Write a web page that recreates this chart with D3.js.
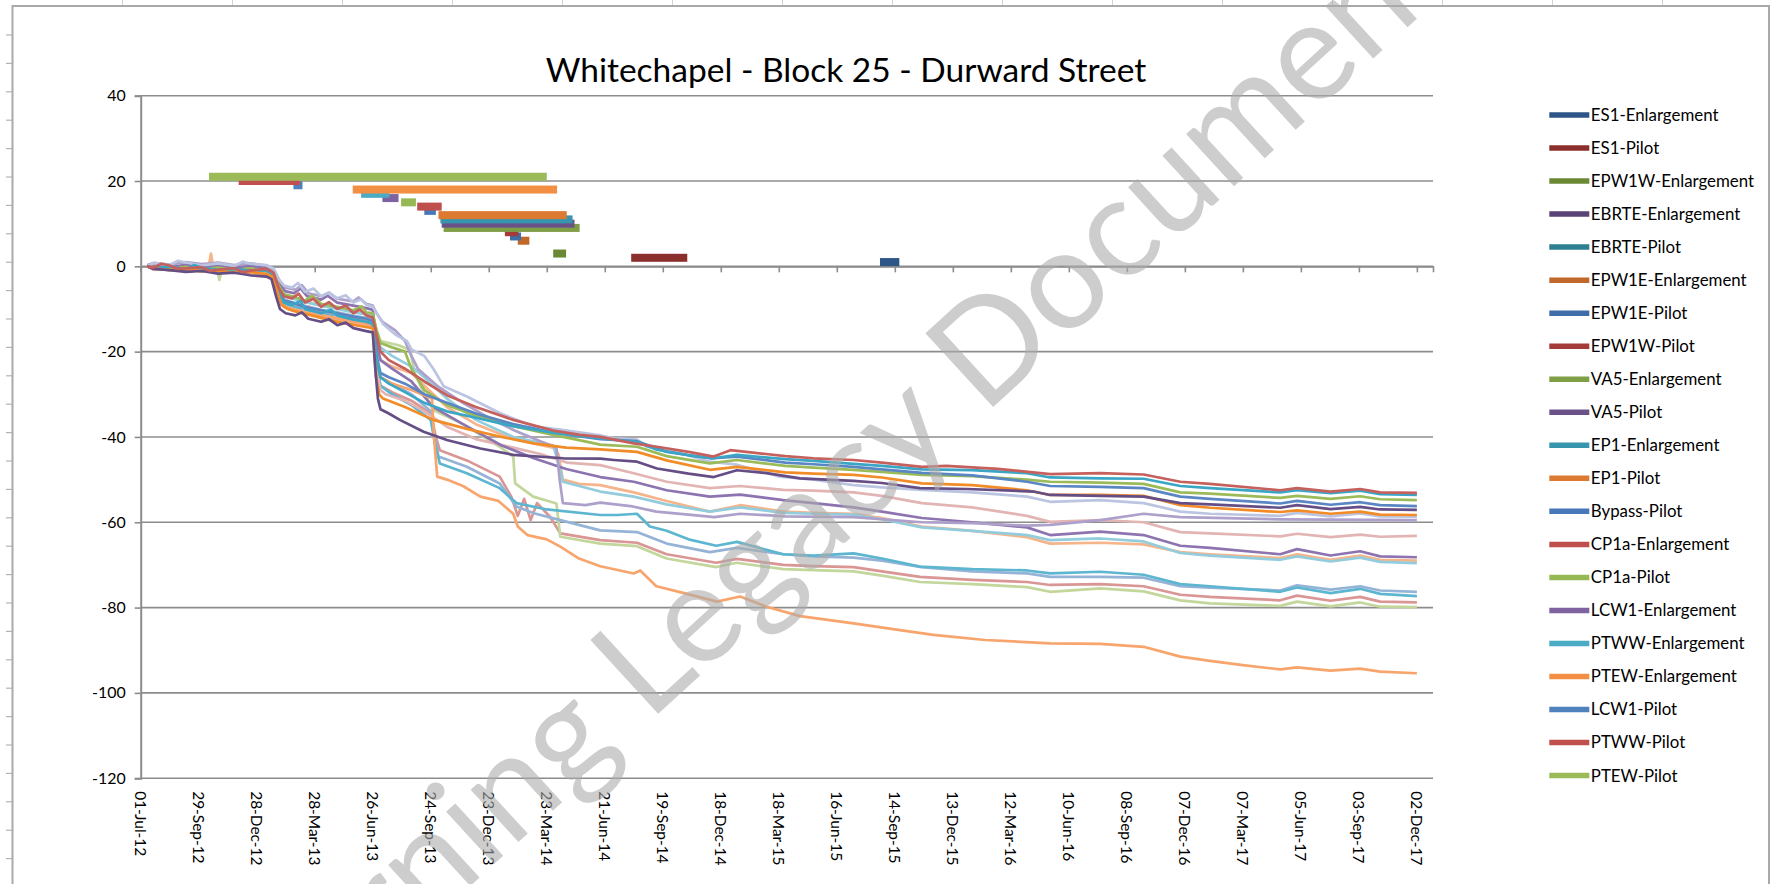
<!DOCTYPE html>
<html>
<head>
<meta charset="utf-8">
<script src="https://cdn.jsdelivr.net/npm/d3@7"></script>
<style>
  html, body { margin: 0; padding: 0; background: #fff; }
  svg { display: block; }
</style>
</head>
<body>
<svg id="chart" width="1771" height="884"></svg>
<script>
// ---------------------------------------------------------------
// Whitechapel - Block 25 - Durward Street: settlement (mm) against
// date, with the works periods plotted as floating bars above zero.
// ---------------------------------------------------------------

const chartTitle = "Whitechapel - Block 25 - Durward Street";
const watermarkText = "Crossrail Learning Legacy Document";

// Category-axis labels (one every 90 days from the baseline reading)
const xTickLabels = [
  "01-Jul-12", "29-Sep-12", "28-Dec-12", "28-Mar-13", "26-Jun-13", "24-Sep-13",
  "23-Dec-13", "23-Mar-14", "21-Jun-14", "19-Sep-14", "18-Dec-14", "18-Mar-15",
  "16-Jun-15", "14-Sep-15", "13-Dec-15", "12-Mar-16", "10-Jun-16", "08-Sep-16",
  "07-Dec-16", "07-Mar-17", "05-Jun-17", "03-Sep-17", "02-Dec-17"
];
const axisEndLabel = "27-Dec-17";
const yTicks = [-120, -100, -80, -60, -40, -20, 0, 20, 40];

// Works periods: name, plotted level, start and finish
const workNames = [
  "ES1-Enlargement", "ES1-Pilot", "EPW1W-Enlargement", "EBRTE-Enlargement",
  "EBRTE-Pilot", "EPW1E-Enlargement", "EPW1E-Pilot", "EPW1W-Pilot",
  "VA5-Enlargement", "VA5-Pilot", "EP1-Enlargement", "EP1-Pilot",
  "Bypass-Pilot", "CP1a-Enlargement", "CP1a-Pilot", "LCW1-Enlargement",
  "PTWW-Enlargement", "PTEW-Enlargement", "LCW1-Pilot", "PTWW-Pilot", "PTEW-Pilot"
];
const workLevels = [1, 2, 3, 4, 5, 6, 7, 8, 9, 10, 11, 12, 13, 14, 15, 16, 17, 18, 19, 20, 21];
const workStarts = [
  "2015-08-22", "2014-08-01", "2014-04-02", null, null, "2014-02-06", "2014-01-25",
  "2014-01-17", "2013-10-14", "2013-10-11", "2013-10-09", "2013-10-06", "2013-09-14",
  "2013-09-03", "2013-08-09", "2013-07-11", "2013-06-08", "2013-05-26", "2013-02-23",
  "2012-11-30", "2012-10-15"
];
const workEnds = [
  "2015-09-21", "2014-10-27", "2014-04-22", null, null, "2014-02-24", "2014-02-11",
  "2014-02-07", "2014-05-13", "2014-05-05", "2014-05-02", "2014-04-23", "2013-10-02",
  "2013-10-11", "2013-09-01", "2013-08-05", "2013-07-22", "2014-04-08", "2013-03-09",
  "2013-03-05", "2014-03-23"
];
const workColors = [
  "#2D5587", "#8B2F2D", "#6B8834", "#5A4375", "#2E7F92", "#C0692A", "#3E6DAA",
  "#A43B39", "#7F9E45", "#6A5289", "#3795AD", "#DC7A31", "#4678BB", "#BF4F4C",
  "#97B954", "#7F63A1", "#4AABC5", "#F28F43", "#4F81BD", "#C0504D", "#9BBB59"
];

// Settlement traces: [days after 01-Jul-12, settlement mm]
const trace01 = [[10,0],[20,-0.3],[32,0.6],[45,0.2],[58,-0.6],[70,-0.5],[95,-0.2],[108,-1.1],[120,-0.8],[145,-0.4],[158,-1.4],[170,-1],[195,-0.6],[206,-1.5],[214,-5],[222,-7],[235,-7.5],[245,-6.4],[255,-8.5],[268,-7.6],[280,-9.5],[292,-8.4],[305,-10],[318,-9.2],[330,-11],[340,-10.1],[350,-11.5],[360,-12],[366,-16],[372,-20],[385,-22],[410,-24],[440,-27],[475,-30.2],[520,-33],[578,-36],[640,-38.5],[682,-39.5],[713,-40],[765,-41.5],[801,-42.3],[850,-43.5],[889,-44.6],[915,-43.1],[970,-44],[1000,-44.5],[1044,-45],[1106,-45.4],[1150,-46],[1212,-47],[1250,-46.8],[1330,-47.5],[1411,-48.7],[1489,-48.5],[1556,-48.8],[1613,-50.5],[1659,-51],[1768,-52.5],[1794,-52],[1846,-52.8],[1892,-52.2],[1923,-53],[1980,-53.1]];
const trace02 = [[10,0],[20,-0.5],[45,-0.1],[70,-0.8],[83,0.3],[95,-0.4],[120,-1],[145,-0.6],[170,-1.2],[195,-0.9],[206,-2],[214,-6],[222,-8.5],[235,-9],[248,-8.1],[255,-10],[280,-11],[295,-10.2],[305,-11.5],[330,-12.5],[350,-13],[360,-13.5],[366,-22],[372,-26],[385,-27.5],[410,-29.5],[440,-32],[475,-34],[520,-35.5],[578,-37.5],[640,-39],[713,-40.3],[770,-41.2],[801,-43],[850,-44.3],[889,-45],[925,-44.2],[1000,-45.2],[1044,-45.6],[1106,-46.3],[1150,-46.8],[1212,-47.6],[1290,-47.8],[1375,-48.5],[1411,-49.5],[1489,-49.7],[1556,-49.8],[1613,-51.5],[1659,-52],[1768,-53],[1794,-52.5],[1846,-53.2],[1892,-52.6],[1923,-53.4],[1980,-53.6]];
const trace03 = [[10,0],[20,-0.2],[45,-0.6],[70,-0.1],[95,-0.7],[120,-0.3],[145,-0.9],[170,-0.5],[195,-1.1],[206,-1.5],[214,-4.5],[222,-6.5],[235,-7],[255,-8],[266,-6.9],[280,-8.8],[305,-9.5],[330,-10.3],[343,-9.4],[350,-10.8],[360,-11],[366,-15],[372,-18],[390,-19],[410,-20],[420,-24],[440,-29],[475,-32.5],[520,-35],[578,-37.5],[640,-39.5],[682,-40.8],[713,-41.8],[770,-42.3],[816,-44.5],[883,-46.2],[925,-45.4],[1000,-46.8],[1044,-47.2],[1106,-47.7],[1150,-48.2],[1212,-48.9],[1290,-49.2],[1375,-50],[1411,-50.5],[1489,-50.7],[1556,-51],[1613,-53],[1659,-53.3],[1768,-54.3],[1794,-53.8],[1846,-54.5],[1892,-53.9],[1923,-54.6],[1980,-54.8]];
const trace04 = [[10,0],[20,-0.4],[45,0],[70,-0.7],[95,-0.3],[120,-0.9],[145,-0.5],[170,-1.1],[195,-0.8],[206,-1.8],[214,-5.5],[222,-8],[235,-8.5],[255,-9.5],[280,-10.3],[305,-11],[330,-11.8],[350,-12.3],[360,-12.8],[366,-21],[372,-25],[385,-26],[410,-27.5],[440,-30],[475,-32],[520,-34.5],[578,-37],[640,-39],[713,-40.5],[770,-41],[816,-43.5],[883,-45],[925,-44.6],[1000,-46],[1044,-46.4],[1106,-47],[1150,-47.6],[1212,-48.4],[1290,-49],[1375,-50.5],[1411,-51.5],[1489,-51.7],[1556,-52],[1613,-54],[1659,-54.5],[1768,-55.6],[1794,-55],[1846,-55.9],[1892,-55.3],[1923,-56],[1980,-56.2]];
const trace05 = [[10,0],[20,-0.6],[45,-0.9],[70,-1.3],[95,-1.1],[120,-1.7],[145,-1.5],[170,-2.1],[195,-2.4],[203,-3],[210,-7],[216,-10],[225,-11],[240,-11.5],[250,-10.8],[260,-12.3],[280,-13],[292,-12.4],[305,-13.8],[318,-13.2],[330,-14.5],[350,-15.2],[360,-15.5],[364,-24],[368,-31],[372,-33.5],[385,-34.5],[402,-36],[439,-38.8],[475,-40.7],[527,-42.7],[578,-44.2],[656,-45],[713,-45.1],[734,-45.4],[770,-45.8],[801,-47.4],[850,-48.6],[889,-49.4],[925,-47.8],[971,-48.5],[1023,-49.7],[1106,-50.3],[1150,-50.8],[1209,-52],[1282,-52.2],[1385,-52.8],[1411,-53.6],[1489,-53.8],[1556,-54],[1613,-55.5],[1659,-55.8],[1768,-56.6],[1794,-56],[1846,-56.9],[1892,-56.4],[1923,-57],[1980,-57.1]];
const trace06 = [[10,0],[20,-0.5],[45,-0.9],[70,-0.6],[95,-1.2],[120,-1],[145,-1.5],[170,-1.3],[195,-1.8],[205,-2.5],[212,-6],[218,-9],[228,-10],[245,-10.8],[265,-11.5],[290,-12.5],[315,-13.3],[340,-14],[360,-14.5],[365,-26],[370,-30],[376,-31],[410,-33],[454,-36],[506,-38.1],[560,-40],[610,-41.5],[660,-42.5],[713,-42.9],[770,-43.5],[816,-45.5],[883,-47.7],[925,-47],[1000,-48.3],[1044,-48.6],[1106,-48.9],[1150,-49.5],[1212,-50.9],[1290,-51.3],[1375,-52.5],[1411,-53.6],[1489,-53.6],[1556,-53.8],[1613,-56],[1659,-56.6],[1768,-57.6],[1794,-57.2],[1846,-58],[1892,-57.5],[1923,-58.2],[1980,-58.3]];
const trace07 = [[10,0],[20,0.8],[45,0.3],[58,1.3],[70,0.9],[95,0.2],[120,0.7],[145,0.1],[158,1.1],[170,0.6],[195,0.3],[206,-0.5],[214,-3],[222,-4.5],[235,-5],[244,-3.9],[255,-6],[268,-5.2],[280,-7],[292,-6.1],[305,-7.5],[318,-6.8],[330,-8.5],[342,-7.7],[350,-9],[360,-9.5],[368,-11.5],[376,-13.5],[395,-16],[413,-17.5],[420,-19.5],[440,-21],[454,-24],[470,-28.1],[506,-30.5],[557,-34.4],[609,-37.5],[651,-38.3],[713,-39.6],[734,-40.3],[770,-40.6],[785,-42.3],[816,-43],[837,-43.8],[883,-45.8],[925,-46.5],[992,-49.3],[1044,-50],[1106,-51.3],[1150,-51.8],[1212,-52.4],[1290,-53],[1375,-54],[1411,-55.2],[1489,-54.8],[1556,-55.5],[1613,-57.5],[1659,-58],[1768,-58.5],[1794,-57.8],[1846,-58.6],[1892,-57.9],[1923,-58.6],[1980,-58.7]];
const trace08 = [[10,0.3],[20,0.8],[45,0.4],[70,1],[95,0.5],[120,0.9],[145,0.3],[170,0.7],[195,0.2],[207,-0.8],[216,-3.5],[225,-5],[240,-5.5],[250,-4.4],[260,-6.3],[280,-7],[292,-6.2],[305,-7.6],[330,-8.2],[338,-7.3],[350,-8.8],[360,-9.2],[366,-11],[375,-13],[395,-15],[410,-17.5],[420,-21],[430,-24],[460,-28],[500,-32],[540,-35.5],[580,-38.5],[620,-41],[645,-42.5],[650,-50],[655,-55.5],[690,-56],[713,-55.4],[760,-56.2],[800,-57.5],[850,-58.2],[890,-58.8],[930,-58],[1000,-58.6],[1106,-58.8],[1212,-60],[1290,-60.2],[1375,-60.8],[1411,-60.6],[1489,-59.5],[1556,-58],[1613,-58.8],[1768,-59.3],[1846,-59.4],[1980,-59.5]];
const trace09 = [[10,0],[20,-0.7],[45,-0.4],[70,-1],[90,-0.8],[115,-0.5],[140,-1.2],[165,-1],[190,-1.6],[205,-2.2],[213,-6],[220,-9],[232,-10],[250,-10.5],[262,-9.4],[275,-11.3],[300,-12],[312,-11.1],[325,-12.8],[345,-13.3],[360,-13.6],[366,-24],[372,-29],[380,-30],[410,-31.5],[440,-34],[475,-37.6],[520,-40.5],[578,-42.5],[620,-44],[661,-46],[713,-46.6],[765,-48.5],[816,-50.5],[883,-52],[930,-51.5],[997,-52.4],[1044,-52.6],[1106,-53],[1150,-53.8],[1212,-55.5],[1290,-56.5],[1375,-58.5],[1411,-59.9],[1489,-59.5],[1556,-60],[1613,-62.3],[1659,-62.6],[1768,-63.3],[1794,-62.7],[1846,-63.5],[1892,-62.9],[1923,-63.4],[1980,-63.2]];
const trace10 = [[10,0],[20,0.2],[45,-0.3],[70,0.4],[95,-0.2],[120,0.3],[145,-0.4],[170,0.2],[195,-0.5],[207,-1.5],[215,-4],[224,-5.8],[238,-6.3],[248,-5.2],[258,-7],[280,-7.8],[290,-6.9],[305,-8.5],[330,-9.2],[350,-9.8],[360,-10.2],[366,-18],[372,-22],[390,-24],[420,-27],[454,-33],[500,-37],[560,-42],[610,-45],[660,-47.5],[713,-49.4],[765,-50.5],[816,-52.5],[883,-54],[930,-53.5],[997,-54.8],[1044,-55.5],[1106,-56.5],[1150,-57.5],[1212,-59],[1290,-60],[1375,-61.2],[1411,-63],[1489,-62.2],[1556,-63],[1613,-65.5],[1659,-66],[1768,-67.5],[1794,-66.3],[1846,-67.8],[1892,-66.8],[1923,-68],[1980,-68.2]];
const trace11 = [[10,0],[20,-0.8],[45,-0.5],[70,-1.2],[95,-0.9],[105,-0.5],[109,3],[113,-0.8],[140,-1.5],[165,-1.3],[190,-2],[205,-2.6],[213,-6.5],[222,-9.5],[235,-10.3],[255,-11],[280,-11.8],[305,-12.4],[330,-13.2],[350,-13.7],[360,-14],[366,-19],[372,-22],[390,-23.5],[420,-25],[440,-28],[475,-33],[520,-37],[578,-40.5],[640,-42.5],[648,-44],[655,-50],[680,-51],[713,-51.3],[765,-53],[816,-55],[883,-57.5],[930,-56],[997,-57.5],[1044,-57.8],[1106,-58],[1150,-59],[1212,-61],[1290,-62],[1375,-63.5],[1411,-65],[1489,-64.8],[1556,-65.2],[1613,-67],[1659,-67.5],[1768,-68.4],[1794,-67.5],[1846,-68.8],[1892,-67.8],[1923,-68.8],[1980,-69]];
const trace12 = [[10,0],[20,-0.3],[45,0.2],[70,-0.5],[95,0],[120,-0.6],[145,-0.2],[170,-0.9],[195,-0.5],[206,-1.2],[214,-4.8],[223,-7],[236,-7.6],[256,-8.4],[280,-9.3],[305,-10],[330,-10.8],[350,-11.3],[360,-11.6],[366,-16],[372,-19],[390,-21],[420,-23.5],[440,-26],[475,-31],[520,-36],[578,-40],[640,-42],[650,-47],[655,-50.5],[713,-52.8],[765,-54],[816,-55.8],[883,-57.5],[930,-56.5],[997,-57.8],[1044,-58],[1106,-58.2],[1150,-59.3],[1212,-61.2],[1290,-62],[1375,-63],[1411,-64.2],[1489,-63.8],[1556,-64.5],[1613,-67.2],[1659,-67.8],[1768,-68.8],[1794,-68],[1846,-69.2],[1892,-68.3],[1923,-69.3],[1980,-69.6]];
const trace13 = [[10,0],[20,-0.6],[45,-0.2],[70,-0.9],[95,-0.5],[120,-1.1],[145,-0.7],[170,-1.4],[195,-1],[206,-1.8],[214,-5],[223,-7.8],[236,-8.5],[256,-9.3],[280,-10.2],[305,-10.8],[330,-11.6],[350,-12.1],[360,-12.5],[366,-22],[372,-26],[390,-27.5],[420,-30],[450,-34],[456,-40],[462,-44.6],[506,-47],[557,-50.9],[583,-56.3],[610,-57.9],[651,-59.5],[713,-61.9],[770,-62.3],[816,-65],[883,-67],[925,-66],[997,-67.5],[1044,-68],[1106,-68.3],[1150,-69],[1212,-70.5],[1290,-71.5],[1375,-72],[1411,-72.8],[1489,-72.8],[1556,-73],[1613,-75],[1659,-75.3],[1768,-76],[1794,-74.8],[1846,-75.8],[1892,-75],[1923,-76],[1980,-76.3]];
const trace14 = [[10,0],[20,-0.4],[45,-0.9],[70,-0.5],[95,-1],[120,-0.8],[145,-1.3],[170,-1],[195,-1.5],[206,-2.2],[214,-6],[223,-8.8],[236,-9.4],[256,-10.2],[280,-11],[305,-11.7],[330,-12.5],[350,-13],[360,-13.4],[366,-23],[372,-28],[390,-30],[420,-32.5],[450,-36],[456,-41],[464,-46.2],[506,-48.5],[557,-52],[583,-55.5],[630,-57],[713,-58.3],[740,-58.3],[770,-58],[790,-61],[816,-62],[850,-64],[893,-65.5],[925,-64.6],[997,-67.5],[1044,-67.8],[1106,-67.3],[1150,-68.5],[1209,-70.4],[1290,-71],[1375,-71.3],[1411,-72],[1489,-71.6],[1556,-72.3],[1613,-74.5],[1659,-75],[1768,-76.3],[1794,-75.3],[1846,-76.6],[1892,-75.6],[1923,-76.8],[1980,-77.3]];
const trace15 = [[10,0],[20,-0.7],[45,-0.3],[70,-1],[95,-0.6],[120,-1.2],[145,-0.8],[170,-1.5],[195,-1.2],[206,-2],[214,-5.5],[223,-8.3],[236,-9],[256,-9.8],[280,-10.6],[305,-11.3],[330,-12],[350,-12.6],[360,-13],[366,-24],[372,-28],[390,-29.5],[420,-31.5],[450,-34.5],[458,-40],[464,-43.1],[506,-45.5],[557,-49.3],[575,-54],[585,-58.5],[595,-54.5],[605,-59.5],[615,-55.5],[635,-58.7],[651,-62.6],[713,-64.2],[770,-64.8],[816,-67.5],[893,-69.5],[925,-68.6],[997,-70],[1044,-70.3],[1106,-70.5],[1150,-71.5],[1209,-72.8],[1290,-73.5],[1375,-74],[1411,-74.7],[1489,-74.5],[1556,-75],[1613,-77],[1659,-77.5],[1768,-78.3],[1794,-77.2],[1846,-78.4],[1892,-77.5],[1923,-78.6],[1980,-78.8]];
const trace16 = [[10,0],[20,-0.3],[45,-0.7],[70,-0.2],[95,-0.8],[118,-0.5],[122,-3.2],[126,-0.6],[145,-1],[170,-0.8],[195,-1.3],[206,-1.8],[214,-4.5],[222,-6.8],[235,-7.3],[255,-8.2],[280,-9],[305,-9.8],[330,-10.6],[350,-11.1],[360,-11.5],[366,-15],[372,-17.5],[400,-18.5],[418,-19.6],[425,-25],[440,-30],[454,-33.7],[500,-37],[557,-42.3],[578,-44.6],[581,-50.9],[609,-54],[645,-55.6],[651,-63.4],[713,-65],[770,-65.6],[816,-68.5],[893,-70.5],[925,-69.5],[997,-71],[1044,-71.2],[1106,-71.5],[1150,-72.5],[1209,-74],[1290,-74.5],[1375,-75.2],[1411,-76.3],[1489,-75.5],[1556,-76.2],[1613,-78.3],[1659,-79],[1768,-79.6],[1794,-78.6],[1846,-79.7],[1892,-78.8],[1923,-79.8],[1980,-79.9]];
const trace17 = [[10,0],[20,-0.4],[45,-0.8],[70,-0.5],[95,-1.1],[120,-0.9],[145,-1.4],[170,-1.2],[195,-1.8],[206,-2.5],[214,-6.5],[223,-9.5],[236,-10],[256,-10.8],[280,-11.5],[305,-12.2],[330,-13],[350,-13.5],[360,-13.8],[366,-22],[372,-26],[390,-27.5],[420,-29],[452,-31],[455,-40],[460,-49.3],[475,-50],[500,-51.5],[527,-54],[555,-55],[578,-58],[585,-61],[600,-63],[630,-64],[651,-65.7],[680,-68.5],[713,-70.3],[765,-72],[775,-71.3],[800,-75],[840,-76.5],[894,-78.6],[930,-77.4],[971,-79.8],[1023,-82],[1106,-83.7],[1178,-85.3],[1230,-86.4],[1310,-87.6],[1411,-88.4],[1489,-88.5],[1556,-89.2],[1613,-91.5],[1659,-92.5],[1710,-93.5],[1768,-94.5],[1794,-94],[1846,-94.8],[1892,-94.3],[1923,-95],[1980,-95.4]];

const traces = [trace15, trace16, trace13, trace14, trace11, trace12, trace09, trace10,
                trace08, trace07, trace17, trace03, trace04, trace02, trace06, trace05, trace01];
const traceColors = ["#D99694", "#C3D69B", "#95B3D7", "#5DB6D0", "#F6B48A", "#93CDDD", "#E2B4B3", "#8D74B0",
                     "#ADA0CB", "#BBC5E2", "#F7A56D", "#9BBB59", "#5B86C4", "#3AA6C6", "#F28C28", "#654E86", "#C6605D"];

// ---------------------------------------------------------------
const FONT = "Lato, 'Open Sans', sans-serif";
const svg = d3.select("#chart");
const W = 1771, H = 884;
const plot = { left: 140.7, right: 1433, top: 95.7, bottom: 778.2 };
const gridColor = "#8C8C8C";
const inkColor = "#000";

const parseLabel = d3.utcParse("%d-%b-%y");
const parseISO = d3.utcParse("%Y-%m-%d");
const baseDate = parseLabel(xTickLabels[0]);
const dayDate = d => d3.utcDay.offset(baseDate, d);

const x = d3.scaleUtc()
  .domain([baseDate, parseLabel(axisEndLabel)])
  .range([plot.left, plot.right]);
const y = d3.scaleLinear().domain([-120, 40]).range([plot.bottom, plot.top]);

// font sizing helper: size that makes a sample string a given width
function sizeFor(text, width, weight) {
  const t = svg.append("text").attr("font-family", FONT).attr("font-size", 100)
    .attr("font-weight", weight || 400).text(text);
  const w = t.node().getComputedTextLength();
  t.remove();
  return 100 * width / w;
}

svg.append("rect").attr("width", W).attr("height", H).attr("fill", "#fff");

// outer frame with its ruler marks
const frame = svg.append("g").attr("fill", "none");
frame.append("path").attr("d", `M12.5,${H + 2} V6 H1769 V${H + 2}`)
  .attr("stroke", "#A9A9A9").attr("stroke-width", 2);
frame.selectAll("line.rl").data(d3.range(35, H, 28.4)).join("line")
  .attr("x1", 6).attr("x2", 12).attr("y1", d => d).attr("y2", d => d)
  .attr("stroke", "#B4B4B4").attr("stroke-width", 1.2);
frame.selectAll("line.rt").data(d3.range(122.5, W, 110)).join("line")
  .attr("y1", 0).attr("y2", 5).attr("x1", d => d).attr("x2", d => d)
  .attr("stroke", "#D2D2D2").attr("stroke-width", 1);

// title
const titleSize = sizeFor(chartTitle, 601);
svg.append("text").attr("x", 846).attr("y", 82).attr("text-anchor", "middle")
  .attr("font-family", FONT).attr("font-size", titleSize).attr("fill", inkColor)
  .text(chartTitle);

// horizontal gridlines
svg.append("g").selectAll("line").data(yTicks).join("line")
  .attr("x1", plot.left).attr("x2", plot.right)
  .attr("y1", d => y(d)).attr("y2", d => y(d))
  .attr("stroke", gridColor).attr("stroke-width", 1.6);

// value axis
const labelSize = sizeFor("-100", 33.7);
const yAxis = svg.append("g").attr("transform", `translate(${plot.left},0)`)
  .call(d3.axisLeft(y).tickValues(yTicks).tickSize(6).tickPadding(9).tickFormat(d => String(d)));
yAxis.select(".domain").attr("stroke", gridColor).attr("stroke-width", 2);
yAxis.selectAll(".tick line").attr("stroke", gridColor).attr("stroke-width", 1.6);
yAxis.selectAll(".tick text").attr("font-family", FONT).attr("font-size", labelSize).attr("fill", inkColor);

// category axis crossing at zero, labels at the bottom
const tickDates = xTickLabels.map(parseLabel);
const xAxis = svg.append("g").attr("transform", `translate(0,${y(0)})`)
  .call(d3.axisBottom(x).tickValues(tickDates).tickSize(6).tickFormat(""));
xAxis.select(".domain").attr("stroke", gridColor).attr("stroke-width", 1.6);
xAxis.selectAll(".tick line").attr("stroke", gridColor).attr("stroke-width", 1.6);

const xLabelSize = sizeFor(xTickLabels[0], 65);
svg.append("g").selectAll("text").data(xTickLabels).join("text")
  .attr("transform", d => `translate(${x(parseLabel(d))},${plot.bottom + 13}) rotate(90)`)
  .attr("dy", "0.35em").attr("font-family", FONT).attr("font-size", xLabelSize)
  .attr("fill", inkColor).text(d => d);

// settlement traces
const line = d3.line().x(d => x(dayDate(d[0]))).y(d => y(d[1]));
svg.append("g").attr("fill", "none").attr("stroke-linejoin", "round")
  .selectAll("path").data(traces).join("path")
  .attr("d", line).attr("stroke", (d, i) => traceColors[i]).attr("stroke-width", 2.7);

// works bars
const barH = 8;
const works = workNames.map((n, i) => ({ name: n, level: workLevels[i], start: workStarts[i], end: workEnds[i], color: workColors[i] }));
svg.append("g").selectAll("rect").data(works.filter(d => d.start)).join("rect")
  .attr("x", d => x(parseISO(d.start)))
  .attr("width", d => x(parseISO(d.end)) - x(parseISO(d.start)))
  .attr("y", d => y(d.level) - barH / 2).attr("height", barH)
  .attr("fill", d => d.color);

// legend
const legendSize = sizeFor("ES1-Enlargement", 127.7);
const lg = svg.append("g").selectAll("g").data(works).join("g")
  .attr("transform", (d, i) => `translate(1549.3,${115 + i * 33.03})`);
lg.append("line").attr("x1", 0).attr("x2", 40).attr("stroke", d => d.color).attr("stroke-width", 5.5);
lg.append("text").attr("x", 41.5).attr("dy", "0.35em").attr("font-family", FONT)
  .attr("font-size", legendSize).attr("fill", inkColor).text(d => d.name);

// watermark
const wm = svg.append("text").attr("font-family", FONT).attr("font-size", 100)
  .attr("fill", "#ABABAB").attr("fill-opacity", 0.6).attr("dy", "0.35em").text(watermarkText);
const node = wm.node();
const iLeg = watermarkText.indexOf("Legacy"), iDoc = watermarkText.indexOf("Document");
const legMid = node.getSubStringLength(0, iLeg) + node.getSubStringLength(iLeg, 6) / 2;
const docMid = node.getSubStringLength(0, iDoc) + node.getSubStringLength(iDoc, 8) / 2;
const wmScale = 568 / (docMid - legMid);
wm.attr("font-size", 100 * wmScale)
  .attr("transform", `translate(770,545) rotate(-42.5) translate(${-legMid * wmScale},0)`);
</script>
</body>
</html>
